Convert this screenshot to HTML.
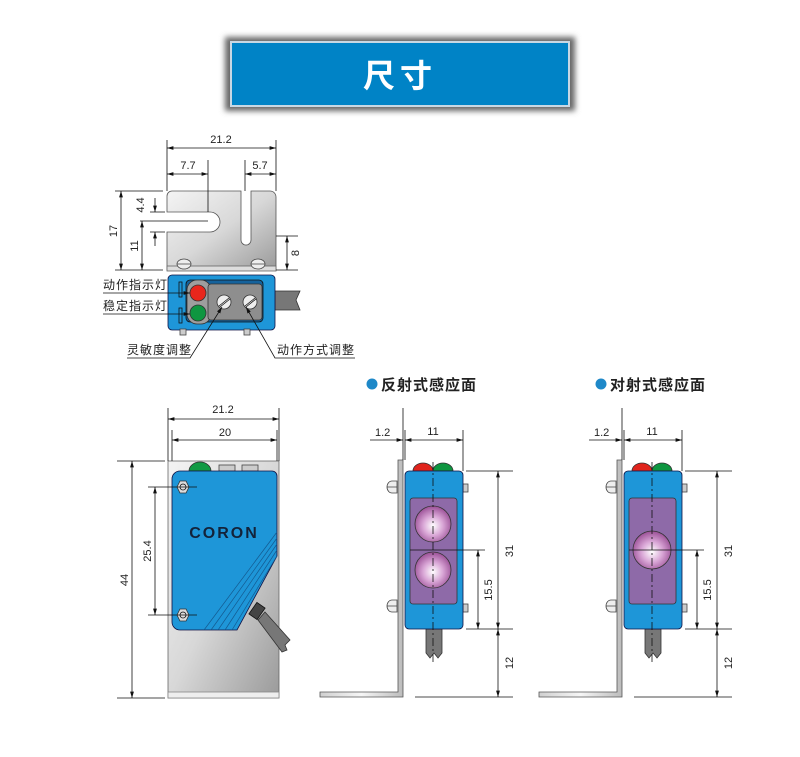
<!DOCTYPE html>
<html><head><meta charset="utf-8"><style>
html,body{margin:0;padding:0;background:#fff;width:800px;height:757px;overflow:hidden}
svg text{font-family:"Liberation Sans","Noto Sans CJK SC",sans-serif;fill:#222}
</style></head><body>
<svg width="800" height="757" viewBox="0 0 800 757" xmlns="http://www.w3.org/2000/svg">
<defs>
<marker id="a" viewBox="0 0 10 6" refX="10" refY="3" markerWidth="8" markerHeight="5" orient="auto-start-reverse"><path d="M0,0 L10,3 L0,6z" fill="#111"/></marker>
<linearGradient id="sil" x1="0" y1="0" x2="1" y2="1"><stop offset="0" stop-color="#f4f4f4"/><stop offset="0.5" stop-color="#d8d8d8"/><stop offset="1" stop-color="#9a9a9a"/></linearGradient>
<linearGradient id="sil2" x1="0" y1="0" x2="1" y2="0"><stop offset="0" stop-color="#d0d0d0"/><stop offset="0.5" stop-color="#f6f6f6"/><stop offset="1" stop-color="#bcbcbc"/></linearGradient>
<radialGradient id="lens" cx="0.5" cy="0.55" r="0.55"><stop offset="0" stop-color="#ffffff"/><stop offset="0.5" stop-color="#d9a6d6"/><stop offset="1" stop-color="#9a4f96"/></radialGradient>
<filter id="sh" x="-10%" y="-30%" width="120%" height="160%"><feGaussianBlur stdDeviation="3"/></filter>
</defs>

<!-- Banner -->
<rect x="225" y="37" width="350" height="74" fill="#666" filter="url(#sh)"/>
<rect x="230" y="41" width="340" height="66" fill="#c8d8e4"/>
<rect x="232" y="43" width="336" height="62" fill="#0083c6"/>
<text x="400" y="87" text-anchor="middle" font-size="32" font-weight="bold" style="fill:#fff" letter-spacing="5">尺寸</text>

<g stroke="#111" stroke-width="0.8" fill="none">
<!-- ===== TOP VIEW ===== -->
<path d="M172,191 H241 V240 A5,5 0 0 0 251,240 V191 H270 A6,6 0 0 1 276,197 V270 H167 V232 H210 A10,10 0 0 0 210,212 H167 V196 A5,5 0 0 1 172,191 Z" fill="url(#sil)" stroke="#555"/>
<rect x="167" y="266" width="109" height="5" fill="#ddd" stroke="#666"/>
<g fill="#eee" stroke="#444"><ellipse cx="184" cy="264" rx="7" ry="5"/><ellipse cx="258" cy="264" rx="7" ry="5"/><path d="M177,264 H191 M251,264 H265"/></g>
<path d="M275,291 H300 L296,300 L300,310 H275 Z" fill="#777" stroke="#333"/>
<rect x="168" y="275" width="107" height="55" rx="4" fill="#1e96d8" stroke="#114"/>
<rect x="244" y="329" width="6" height="6" fill="#ccc" stroke="#444"/><rect x="180" y="329" width="6" height="6" fill="#ccc" stroke="#444"/>
<rect x="186" y="280" width="77" height="42" rx="4" fill="#14629c" stroke="#111"/>
<rect x="187" y="280" width="24" height="44" rx="10" fill="#9e9e9e" stroke="#333"/>
<rect x="208" y="284" width="54" height="36" rx="3" fill="#8e8e8e" stroke="#333"/>
<circle cx="198" cy="293" r="8" fill="#e8261c" stroke="#333"/>
<circle cx="198" cy="313" r="8" fill="#0e9640" stroke="#333"/>
<rect x="179" y="282" width="3" height="15" fill="#1e96d8"/><rect x="179" y="308" width="3" height="15" fill="#1e96d8"/>
<circle cx="224" cy="302" r="7" fill="#eee" stroke="#333"/><path d="M219,306 L229,298 M220,307 L230,299"/>
<circle cx="250" cy="302" r="7" fill="#eee" stroke="#333"/><path d="M245,306 L255,298 M246,307 L256,299"/>
<path d="M167,191 V140 M276,191 V140 M208,212 V160 M245,191 V160"/>
<path d="M167,148 H276" marker-start="url(#a)" marker-end="url(#a)"/>
<path d="M167,174 H208" marker-start="url(#a)" marker-end="url(#a)"/>
<path d="M245,174 H276" marker-start="url(#a)" marker-end="url(#a)"/>
<path d="M115,191 H163 M115,270 H163 M140,221 H208 M150,212 H165 M150,232 H165 M276,236 H298 M276,270 H298"/>
<path d="M121,191 V270" marker-start="url(#a)" marker-end="url(#a)"/>
<path d="M142,221 V270" marker-start="url(#a)" marker-end="url(#a)"/>
<path d="M155,198 V212" marker-end="url(#a)"/><path d="M155,246 V232" marker-end="url(#a)"/>
<path d="M287,236 V270" marker-start="url(#a)" marker-end="url(#a)"/>
<path d="M103,293 H190" marker-end="url(#a)"/>
<path d="M103,314 H190" marker-end="url(#a)"/>
<path d="M127,358 H190 L222,307" marker-end="url(#a)"/>
<path d="M355,358 H275 L246,307" marker-end="url(#a)"/>
</g>
<g font-size="11">
<text x="221" y="143" text-anchor="middle">21.2</text>
<text x="188" y="169" text-anchor="middle">7.7</text>
<text x="260" y="169" text-anchor="middle">5.7</text>
<text transform="translate(117,231) rotate(-90)" text-anchor="middle">17</text>
<text transform="translate(138,246) rotate(-90)" text-anchor="middle">11</text>
<text transform="translate(144,205) rotate(-90)" text-anchor="middle">4.4</text>
<text transform="translate(299,253) rotate(-90)" text-anchor="middle">8</text>
<text x="103" y="289" font-size="12" letter-spacing="1">动作指示灯</text>
<text x="103" y="310" font-size="12" letter-spacing="1">稳定指示灯</text>
<text x="127" y="354" font-size="12" letter-spacing="1">灵敏度调整</text>
<text x="277" y="354" font-size="12" letter-spacing="1">动作方式调整</text>
</g>

<!-- ===== FRONT VIEW ===== -->
<g stroke="#111" stroke-width="0.8" fill="none">
<rect x="168" y="461" width="111" height="237" fill="url(#sil)" stroke="#666"/>
<rect x="168" y="692" width="111" height="6" fill="#eee" stroke="#888"/>
<path d="M189,471 A11,9 0 0 1 211,471 Z" fill="#119a44" stroke="#333"/>
<rect x="219" y="465" width="16" height="6" fill="#ccc" stroke="#444"/><rect x="242" y="465" width="16" height="6" fill="#ccc" stroke="#444"/>
<path d="M265,612 L290,640 L285,645 L287,650 L282,652 L258,620 Z" fill="#777" stroke="#333"/>
<rect x="250" y="606" width="14" height="10" transform="rotate(-55 257 611)" fill="#444"/>
<path d="M180,471 H272 A5,5 0 0 1 277,476 V556 L237,630 H180 A8,8 0 0 1 172,622 V479 A8,8 0 0 1 180,471 Z" fill="#1e96d8" stroke="#114"/>
<path d="M277,532 L204,630 M277,538 L211,630 M277,544 L218,630 M277,550 L225,630 M277,556 L232,630" stroke="#145a90" stroke-width="0.7"/>
<path d="M177,487 L180,481 H186 L189,487 L186,493 H180 Z" fill="#ddd" stroke="#333"/><circle cx="183" cy="487" r="3"/>
<path d="M177,615 L180,609 H186 L189,615 L186,621 H180 Z" fill="#ddd" stroke="#333"/><circle cx="183" cy="615" r="3"/>
<path d="M168,461 V408 M279,461 V408 M172,461 V430 M277,461 V430"/>
<path d="M168,419 H279" marker-start="url(#a)" marker-end="url(#a)"/>
<path d="M172,440 H277" marker-start="url(#a)" marker-end="url(#a)"/>
<path d="M117,461 H165 M117,698 H165 M148,487 H197 M148,615 H197"/>
<path d="M132,461 V698" marker-start="url(#a)" marker-end="url(#a)"/>
<path d="M155,487 V615" marker-start="url(#a)" marker-end="url(#a)"/>
</g>
<text x="224" y="538" text-anchor="middle" font-size="16" font-weight="bold" letter-spacing="2" style="fill:#13233a">CORON</text>
<g font-size="11">
<text x="223" y="413" text-anchor="middle">21.2</text>
<text x="225" y="436" text-anchor="middle">20</text>
<text transform="translate(128,580) rotate(-90)" text-anchor="middle">44</text>
<text transform="translate(151,551) rotate(-90)" text-anchor="middle">25.4</text>
</g>

<circle cx="372" cy="384" r="5.5" fill="#1e88c8"/>
<text x="381" y="390" font-size="15" font-weight="bold" letter-spacing="1">反射式感应面</text>
<circle cx="601" cy="384" r="5.5" fill="#1e88c8"/>
<text x="610" y="390" font-size="15" font-weight="bold" letter-spacing="1">对射式感应面</text>

<g id="side" stroke="#111" stroke-width="0.8" fill="none">
<path d="M398,460 H403 V697 H320 V692 H398 Z" fill="url(#sil2)" stroke="#555"/>
<g fill="#eee" stroke="#444"><path d="M397,481 h-5 a5,6 0 0 0 0,12 h5 z M387,487 H397"/><path d="M397,600 h-5 a5,6 0 0 0 0,12 h5 z M387,606 H397"/></g>
<path d="M413,471 A10,8 0 0 1 433,471 Z" fill="#e0241c" stroke="#333"/>
<path d="M433,471 A10,8 0 0 1 453,471 Z" fill="#0e9640" stroke="#333"/>
<path d="M426,629 H442 V653 L438,658 L434,653 L430,658 L426,653 Z" fill="#777" stroke="#333"/>
<rect x="463" y="484" width="5" height="8" fill="#ccc" stroke="#444"/><rect x="463" y="604" width="5" height="8" fill="#ccc" stroke="#444"/>
<rect x="405" y="471" width="58" height="158" rx="4" fill="#1e96d8" stroke="#114"/>
<path d="M403,460 V408 M405,460 V430 M463,471 V430"/>
<path d="M370,440 H403" marker-end="url(#a)"/><path d="M405,440 H463" marker-start="url(#a)" marker-end="url(#a)"/>
<path d="M466,471 H513 M466,629 H513 M415,697 H513"/>
<path d="M498,471 V629" marker-start="url(#a)" marker-end="url(#a)"/>
<path d="M498,629 V697" marker-start="url(#a)" marker-end="url(#a)"/>
<path d="M478,550 V629" marker-start="url(#a)" marker-end="url(#a)"/>
</g>
<g font-size="11">
<text x="375" y="436">1.2</text><text x="433" y="435" text-anchor="middle">11</text>
<text transform="translate(513,551) rotate(-90)" text-anchor="middle">31</text>
<text transform="translate(492,590) rotate(-90)" text-anchor="middle">15.5</text>
<text transform="translate(513,663) rotate(-90)" text-anchor="middle">12</text>
</g>
<g stroke="#111" stroke-width="0.8">
<rect x="410" y="498" width="47" height="106" rx="3" fill="#8e6aa8" stroke="#333"/>
<circle cx="433" cy="524" r="18" fill="url(#lens)" stroke="#333"/>
<circle cx="433" cy="570" r="18" fill="url(#lens)" stroke="#333"/>
<path d="M410,550 H485"/>
<path d="M433,462 V665" stroke-dasharray="8,3,2,3"/>
</g>

<use href="#side" transform="translate(219,0)"/>
<g font-size="11">
<text x="594" y="436">1.2</text><text x="652" y="435" text-anchor="middle">11</text>
<text transform="translate(732,551) rotate(-90)" text-anchor="middle">31</text>
<text transform="translate(711,590) rotate(-90)" text-anchor="middle">15.5</text>
<text transform="translate(732,663) rotate(-90)" text-anchor="middle">12</text>
</g>
<g stroke="#111" stroke-width="0.8">
<rect x="629" y="498" width="47" height="106" rx="3" fill="#8e6aa8" stroke="#333"/>
<circle cx="652" cy="550" r="19" fill="url(#lens)" stroke="#333"/>
<path d="M629,550 H704"/>
<path d="M652,462 V665" stroke-dasharray="8,3,2,3"/>
</g>
</svg>
</body></html>
